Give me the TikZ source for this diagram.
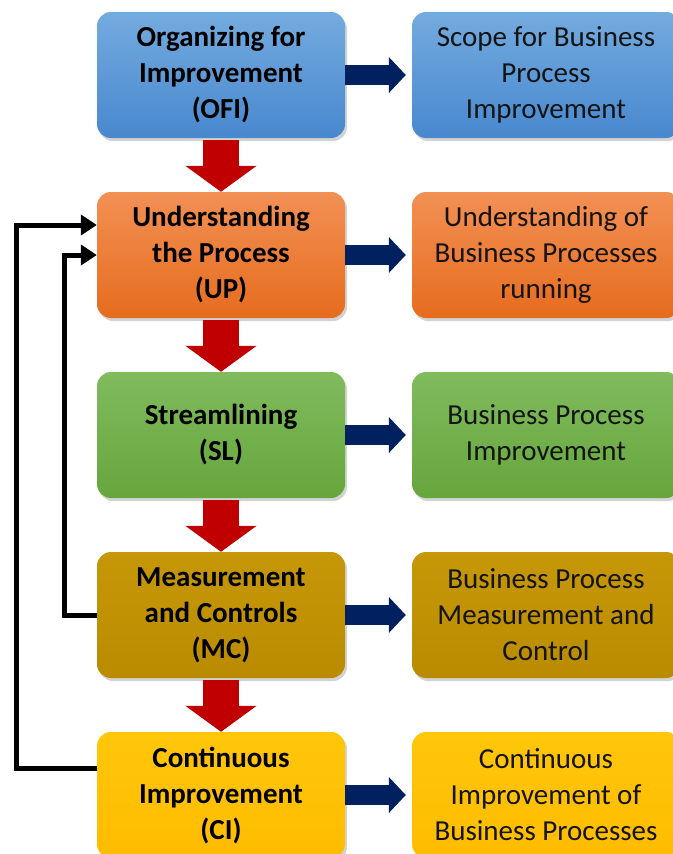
\documentclass[tikz,border=0pt]{standalone}
\usepackage{fontspec}
\setmainfont{Carlito}
\usetikzlibrary{arrows.meta,shadows}
\definecolor{ofitop}{RGB}{116,171,223}
\definecolor{ofibot}{RGB}{72,136,206}
\definecolor{uptop}{RGB}{242,144,84}
\definecolor{upbot}{RGB}{230,108,30}
\definecolor{sltop}{RGB}{128,187,94}
\definecolor{slbot}{RGB}{102,166,60}
\definecolor{mctop}{RGB}{198,152,8}
\definecolor{mcbot}{RGB}{186,139,0}
\definecolor{citop}{RGB}{255,198,10}
\definecolor{cibot}{RGB}{255,188,0}
\definecolor{navy}{RGB}{0,32,96}
\definecolor{crimson}{RGB}{192,0,0}
\tikzstyle{stage} = [rectangle, rounded corners=14pt, minimum width=248pt, minimum height=126pt, inner sep=0pt, align=center, font=\fontsize{29}{36}\selectfont\bfseries, drop shadow={shadow xshift=2pt, shadow yshift=-3pt, opacity=0.35}]
\tikzstyle{outcome} = [stage, minimum width=268pt, font=\fontsize{29}{36}\selectfont, text=black!92]
\tikzstyle{flowdown} = [line width=36pt, draw=crimson, shorten <=2pt, -{Triangle[length=26pt, width=70pt]}]
\tikzstyle{feedsout} = [line width=20pt, draw=navy, shorten >=6pt, -{Triangle[length=17pt, width=35pt]}]
\tikzstyle{loopback} = [line width=5pt, draw=black, -{Triangle[length=16pt, width=20pt]}]

\begin{document}
\begin{tikzpicture}[x=1pt, y=1pt, node distance=180pt]
        \useasboundingbox (0,0) rectangle (672,-854);
        % stages
        \node (ofi) [stage, top color=ofitop, bottom color=ofibot] at (221,-75) {Organizing for\\Improvement\\(OFI)};
        \node (up) [stage, top color=uptop, bottom color=upbot, below of=ofi] {Understanding\\the Process\\(UP)};
        \node (sl) [stage, top color=sltop, bottom color=slbot, below of=up] {Streamlining\\(SL)};
        \node (mc) [stage, top color=mctop, bottom color=mcbot, below of=sl] {Measurement\\and Controls\\(MC)};
        \node (ci) [stage, top color=citop, bottom color=cibot, below of=mc] {Continuous\\Improvement\\(CI)};
        % outcomes
        \node (scope) [outcome, top color=ofitop, bottom color=ofibot, node distance=325pt, right of=ofi] {Scope for Business\\Process\\Improvement};
        \node (know) [outcome, top color=uptop, bottom color=upbot, node distance=325pt, right of=up] {Understanding of\\Business Processes\\running};
        \node (bpi) [outcome, top color=sltop, bottom color=slbot, node distance=325pt, right of=sl] {Business Process\\Improvement};
        \node (ctrl) [outcome, top color=mctop, bottom color=mcbot, node distance=325pt, right of=mc] {Business Process\\Measurement and\\Control};
        \node (cont) [outcome, top color=citop, bottom color=cibot, node distance=325pt, right of=ci] {Continuous\\Improvement of\\Business Processes};
        % arrows
        \draw [flowdown] (ofi) -- (up);
        \draw [flowdown] (up) -- (sl);
        \draw [flowdown] (sl) -- (mc);
        \draw [flowdown] (mc) -- (ci);
        \draw [feedsout] (ofi) -- (scope);
        \draw [feedsout] (up) -- (know);
        \draw [feedsout] (sl) -- (bpi);
        \draw [feedsout] (mc) -- (ctrl);
        \draw [feedsout] (ci) -- (cont);
        \draw [loopback] ([yshift=27pt]ci.west) -- ++(-80pt,0) |- ([yshift=30pt]up.west);
        \draw [loopback] (mc.west) -- ++(-32pt,0) |- (up.west);
\end{tikzpicture}
\end{document}
